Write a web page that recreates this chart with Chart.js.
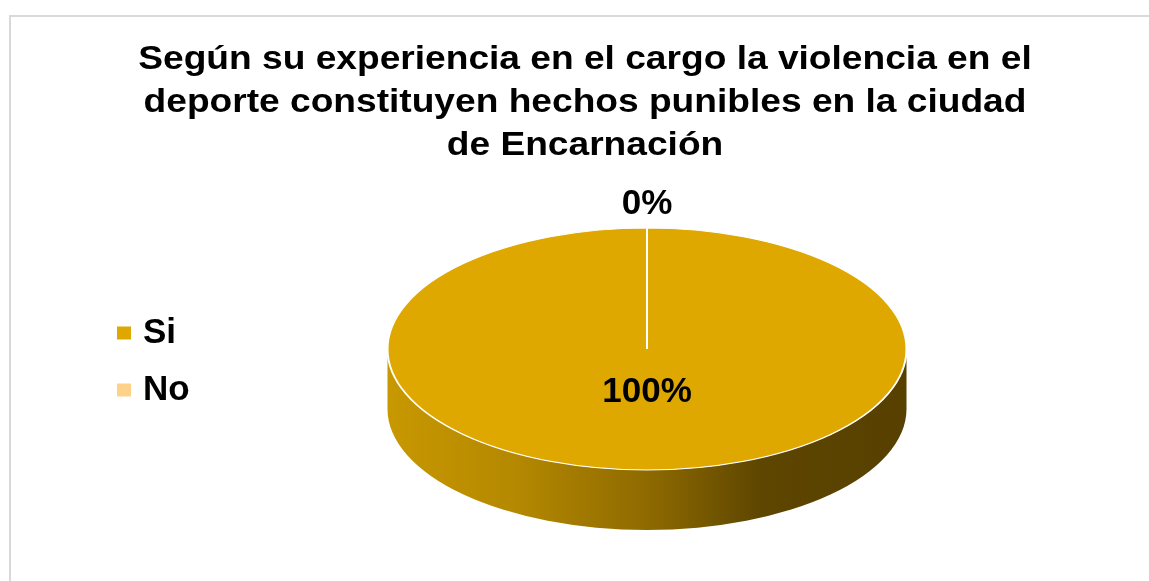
<!DOCTYPE html>
<html>
<head>
<meta charset="utf-8">
<script src="https://cdn.jsdelivr.net/npm/chart.js@4"></script>
<style>
  html, body { margin: 0; padding: 0; background: #ffffff; overflow: hidden; }
  #frame { position: absolute; left: 9px; top: 15px; width: 1200px; height: 700px;
           border: 2px solid #d9d9d9; box-sizing: border-box; }
  #c { position: absolute; left: 0; top: 0; }
</style>
</head>
<body>
<div id="frame"></div>
<canvas id="c" width="1149" height="581"></canvas>
<script>
// ---- data ----
const categories = ['Si', 'No'];
const values = [100, 0];
const sliceColors = ['#DFA800', '#FFD28A'];
const titleLines = [
  'Según su experiencia en el cargo la violencia en el',
  'deporte constituyen hechos punibles en la ciudad',
  'de Encarnación'
];

// ---- layout / style ----
const FONT = '"Liberation Sans", Arial, sans-serif';
const PIE = { cx: 647, cy: 349, rx: 259.5, ry: 121, depth: 60 };
const TITLE_CX = 585, TITLE_STRETCH = 1.125;

const pie3d = {
  id: 'pie3d',
  beforeDraw(chart) {
    // the reference title is set in a horizontally widened face
    const ctx = chart.ctx;
    ctx.save();
    ctx.translate(TITLE_CX, 0);
    ctx.scale(TITLE_STRETCH, 1);
    ctx.translate(-TITLE_CX, 0);
  },
  beforeDatasetsDraw(chart) {
    const ctx = chart.ctx;
    ctx.restore();
    const arc = chart.getDatasetMeta(0).data[0];
    const R = arc.outerRadius;
    const k = PIE.ry / R;
    const cx = PIE.cx, cy = PIE.cy, rx = R, ry = PIE.ry, d = PIE.depth;
    // side wall
    ctx.save();
    const g = ctx.createLinearGradient(cx - rx, 0, cx + rx, 0);
    g.addColorStop(0, '#C89800');
    g.addColorStop(0.25, '#B48800');
    g.addColorStop(0.5, '#8E6A00');
    g.addColorStop(0.72, '#5E4600');
    g.addColorStop(1, '#574000');
    ctx.fillStyle = g;
    ctx.beginPath();
    ctx.moveTo(cx - rx, cy);
    ctx.lineTo(cx - rx, cy + d);
    ctx.ellipse(cx, cy + d, rx, ry, 0, Math.PI, 0, true);
    ctx.lineTo(cx + rx, cy);
    ctx.ellipse(cx, cy, rx, ry, 0, 0, Math.PI, false);
    ctx.closePath();
    ctx.fill();
    ctx.restore();
    // squash the top face into an ellipse
    ctx.save();
    ctx.translate(cx, cy);
    ctx.scale(1, k);
    ctx.translate(-arc.x, -arc.y);
  },
  afterDatasetsDraw(chart) {
    const ctx = chart.ctx;
    ctx.restore();
    const meta = chart.getDatasetMeta(0);
    const data = chart.data.datasets[0].data;
    const total = data.reduce((a, b) => a + b, 0);
    ctx.save();
    ctx.fillStyle = '#000';
    ctx.font = 'bold 35px ' + FONT;
    ctx.textAlign = 'center';
    ctx.textBaseline = 'middle';
    meta.data.forEach((el, i) => {
      const v = data[i];
      const mid = (el.startAngle + el.endAngle) / 2;
      let x, y;
      if (v === 0) {
        x = PIE.cx + (PIE.rx + 24) * Math.cos(mid);
        y = PIE.cy + (PIE.ry + 24) * Math.sin(mid);
      } else {
        x = PIE.cx + PIE.rx * 0.36 * Math.cos(mid);
        y = PIE.cy + PIE.ry * 0.36 * Math.sin(mid);
      }
      ctx.fillText(Math.round(v / total * 100) + '%', x, y);
    });
    ctx.restore();
  },
  afterDraw(chart) {
    // legend
    const ctx = chart.ctx;
    ctx.save();
    ctx.font = 'bold 35px ' + FONT;
    ctx.textBaseline = 'middle';
    chart.data.labels.forEach((lab, i) => {
      const y = 333 + i * 57;
      ctx.fillStyle = chart.data.datasets[0].backgroundColor[i];
      ctx.fillRect(117, y - 6.5, 14, 13);
      ctx.fillStyle = '#000';
      ctx.fillText(lab, 143, y);
    });
    ctx.restore();
  }
};

new Chart(document.getElementById('c'), {
  type: 'pie',
  data: {
    labels: categories,
    datasets: [{
      data: values,
      backgroundColor: sliceColors,
      borderColor: '#ffffff',
      borderWidth: 2,
      radius: PIE.rx,
      clip: false
    }]
  },
  options: {
    responsive: false,
    animation: false,
    devicePixelRatio: 1,
    layout: { padding: { left: 21, right: 0, top: 0, bottom: 0 } },
    plugins: {
      legend: { display: false },
      tooltip: { enabled: false },
      title: {
        display: true,
        text: titleLines,
        color: '#000',
        font: { family: FONT, size: 33, weight: 'bold', lineHeight: 1.29 },
        padding: { top: 39, bottom: 10 }
      }
    }
  },
  plugins: [pie3d]
});
</script>
</body>
</html>
